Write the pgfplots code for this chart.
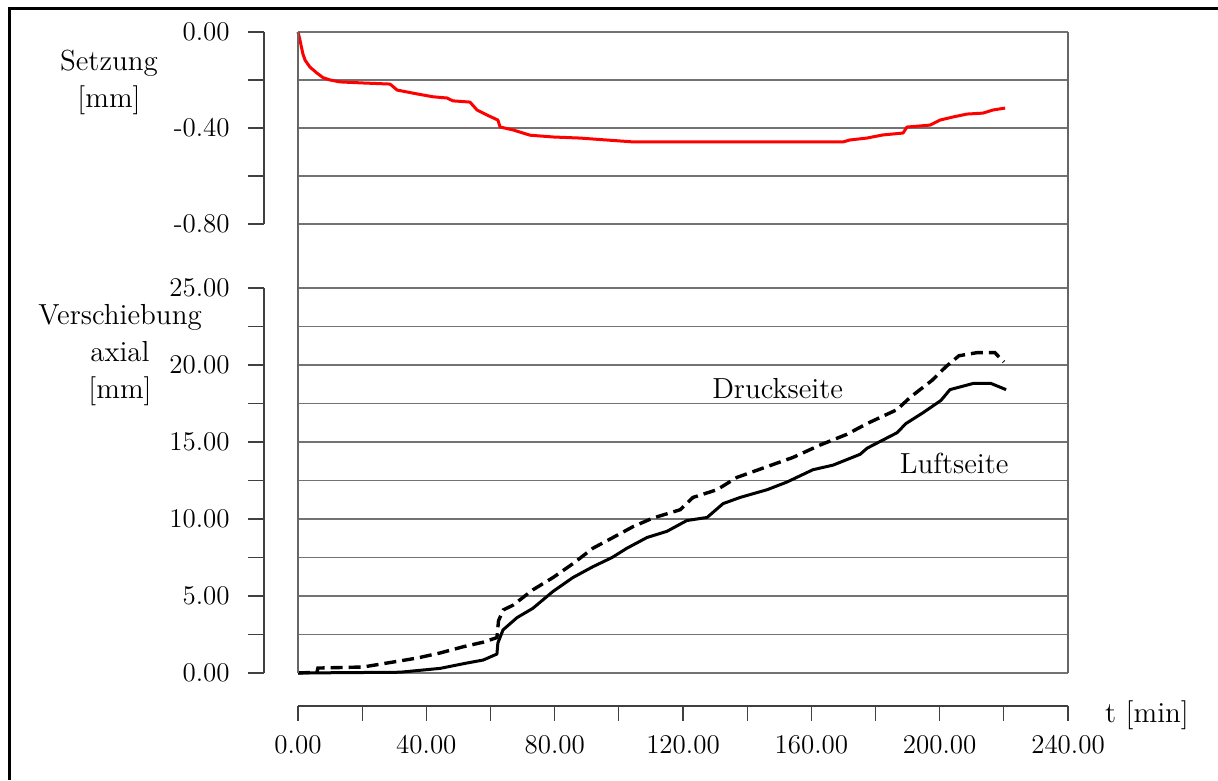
\documentclass[border=0pt]{standalone}
\usepackage{fontspec}
\usepackage{pgfplots}
\pgfplotsset{compat=1.18}
\pgfplotstableread{
t s
0 0
0.6 -0.033
1.5 -0.09
2.2 -0.117
3.7 -0.146
5.9 -0.171
7.8 -0.19
10 -0.2
13.1 -0.208
20.3 -0.2125
28.7 -0.217
30.9 -0.242
37.1 -0.258
42.1 -0.27
46.4 -0.275
48.3 -0.287
53.6 -0.292
55.8 -0.325
58.9 -0.346
62.3 -0.367
63 -0.396
67 -0.408
72.3 -0.43
79.5 -0.4375
87.9 -0.442
104.4 -0.458
169.9 -0.458
172 -0.45
177.3 -0.442
182.3 -0.429
188.6 -0.421
189.8 -0.396
197 -0.388
200.1 -0.367
204.2 -0.354
208.5 -0.342
213.5 -0.338
216.6 -0.325
220.4 -0.317
}\setzung
\pgfplotstableread{
t v
0 0
5.9 0.05
6.2 0.32
20.3 0.39
29.6 0.71
37.1 0.97
44.3 1.3
51.4 1.7
57.7 2.0
62.0 2.3
62.5 3.4
64.0 4.1
67.0 4.4
73.2 5.4
79.5 6.2
85.7 7.1
91.9 8.1
98.2 8.8
104.4 9.5
110.6 10.06
119.1 10.6
123.1 11.4
130.6 11.9
136.8 12.7
146.2 13.4
154.3 14.0
162.7 14.8
171.1 15.5
177.4 16.2
186.7 17.1
190.8 17.9
197.6 19.0
202.0 19.9
206.0 20.6
211.6 20.8
217.2 20.8
220.0 20.2
}\druck
\pgfplotstableread{
t v
0 0
31.8 0.05
44.3 0.3
52.7 0.65
57.7 0.84
62.0 1.23
62.3 1.95
63.9 2.8
68.3 3.6
73.2 4.2
79.5 5.3
85.7 6.2
91.9 6.9
97.9 7.5
102.5 8.1
108.8 8.8
115.0 9.2
121.2 9.9
127.5 10.1
132.5 11.0
137.8 11.4
146.2 11.9
152.4 12.4
160.5 13.2
166.8 13.5
175.2 14.2
177.4 14.6
186.7 15.6
189.5 16.2
194.8 16.9
200.4 17.7
203.2 18.4
210.4 18.8
216.0 18.8
220.7 18.4
}\luft
\begin{document}
\fontsize{14.5}{18.5}\selectfont
\begin{tikzpicture}
\useasboundingbox (0,0) rectangle (609pt,390pt);
\pgfplotsset{
  common/.style={scale only axis, clip=false, width=385pt, xmin=0, xmax=240,
    axis line style={draw=none}, xtick=\empty, tick style={draw=none},
    yticklabels={}, ymajorgrids, grid style={black!55, line width=0.6pt}},
  offaxis/.style={scale only axis, width=1pt, xmin=0, xmax=1, axis x line=none,
    axis y line=left, axis line style={-, black!75, line width=0.6pt},
    tick align=outside, major tick length=8pt,
    tick style={black!75, line width=0.6pt},
    /pgf/number format/assume math mode=true,
    yticklabel style={font=\fontsize{13.5}{15}\selectfont, inner sep=0pt},
    yticklabel shift=9pt},
}
% frame
\draw[line width=1.5pt] (4.5pt,0pt) -- (4.5pt,385.5pt) -- (609pt,385.5pt);
% top axis (Setzung)
\begin{axis}[common, at={(149pt,278pt)}, anchor=south west, height=96pt,
  ymin=-0.8, ymax=0, ytick={-0.8,-0.6,...,0}]
\addplot[red, line width=1.5pt, line join=round] table[x=t,y=s] {\setzung};
\end{axis}
\begin{axis}[offaxis, at={(132pt,278pt)}, anchor=south west, height=96pt,
  ymin=-0.8, ymax=0, ytick={-0.8,-0.6,-0.4,-0.2,0},
  yticklabels={-0.80,,-0.40,,0.00}]
\end{axis}
% bottom axis (Verschiebung)
\begin{axis}[common, at={(149pt,53.5pt)}, anchor=south west, height=192.5pt,
  ymin=0, ymax=25, ytick={0,2.5,...,25}]
\addplot[black, line width=1.7pt, dash pattern=on 6pt off 3pt] table[x=t,y=v] {\druck};
\addplot[black, line width=1.5pt, line join=round] table[x=t,y=v] {\luft};
\node at (axis cs:149.5,18.5) {Druckseite};
\node at (axis cs:204.5,13.6) {Luftseite};
\end{axis}
\begin{axis}[offaxis, at={(132pt,53.5pt)}, anchor=south west, height=192.5pt,
  ymin=0, ymax=25, ytick={0,2.5,...,25},
  yticklabels={0.00,,5.00,,10.00,,15.00,,20.00,,25.00}]
\end{axis}
% plot borders
\draw[black!60, line width=0.6pt] (149pt,53.5pt) -- (149pt,374pt);
\draw[black!60, line width=0.6pt] (534pt,53.5pt) -- (534pt,374pt);
% x axis
\begin{axis}[scale only axis, at={(149pt,37pt)}, anchor=south west, width=385pt,
  height=1pt, xmin=0, xmax=240, ymin=0, ymax=1, axis y line=none,
  axis x line=bottom, axis line style={-, black!75, line width=0.6pt},
  xtick={0,20,...,240},
  xticklabels={0.00,,40.00,,80.00,,120.00,,160.00,,200.00,,240.00},
  tick align=outside, major tick length=7.5pt,
  tick style={black!75, line width=0.6pt},
  /pgf/number format/assume math mode=true,
  xticklabel style={font=\fontsize{13.5}{15}\selectfont, inner sep=0pt},
  xticklabel shift=7pt]
\end{axis}
\node at (573.5pt,32.5pt) {t [min]};
\node[align=center] at (54.5pt,349pt) {Setzung\\{[mm]}};
\node[align=center] at (60pt,212.5pt) {Verschiebung\\axial\\{[mm]}};
\end{tikzpicture}
\end{document}
